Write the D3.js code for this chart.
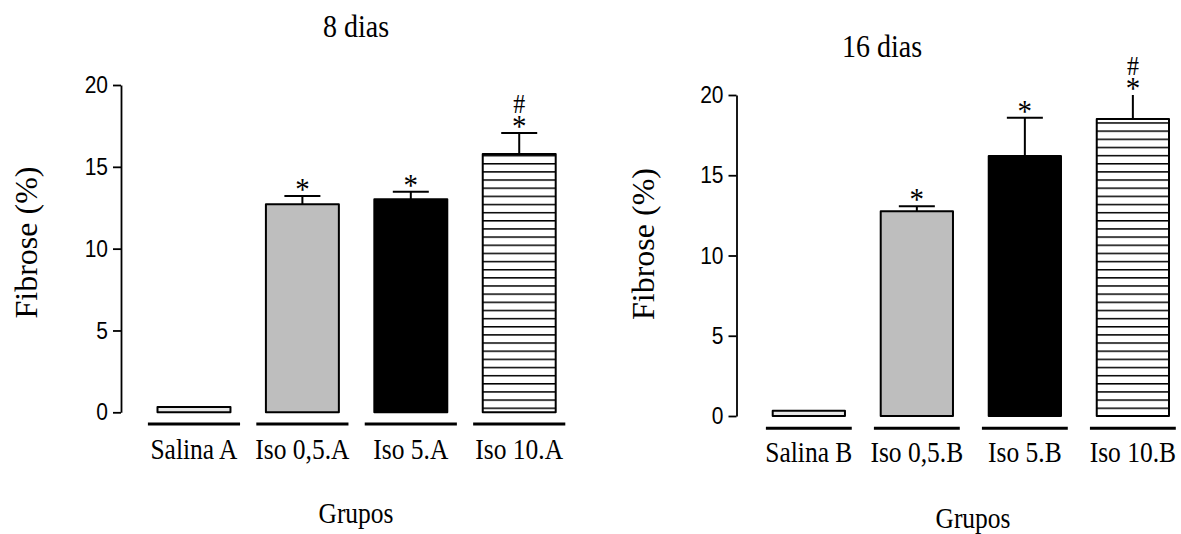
<!DOCTYPE html>
<html>
<head>
<meta charset="utf-8">
<script src="https://cdn.jsdelivr.net/npm/d3@7/dist/d3.min.js"></script>
<style>
  html, body { margin: 0; padding: 0; background: #fff; }
  svg { display: block; }
</style>
</head>
<body>
<svg id="chart" width="1181" height="534"></svg>
<script>
// ---- data ----
const categoriesA = ["Salina A", "Iso 0,5.A", "Iso 5.A", "Iso 10.A"];
const fibroseA    = [0.33, 12.71, 13.02, 15.79];   // mean fibrosis (%)
const semA        = [0, 0.51, 0.45, 1.28];         // standard error
const marksA      = ["", "*", "*", "#*"];          // significance marks

const categoriesB = ["Salina B", "Iso 0,5.B", "Iso 5.B", "Iso 10.B"];
const fibroseB    = [0.33, 12.75, 16.2, 18.5];
const semB        = [0, 0.32, 2.39, 1.8];
const marksB      = ["", "*", "*", "#*"];

const yTicks = [0, 5, 10, 15, 20];
const yMax = 20;

// ---- styles ----
const barFills = ["#e6e6e6", "#bebebe", "#000000", "url(#hatch)"];
const serif = "'Liberation Serif', 'Times New Roman', serif";
const sans = "'Liberation Sans', Arial, sans-serif";
const vStretch = 1.12;

const svg = d3.select("#chart");

// horizontal hatching for the last group
const defs = svg.append("defs");
const pat = defs.append("pattern")
  .attr("id", "hatch")
  .attr("patternUnits", "userSpaceOnUse")
  .attr("width", 10).attr("height", 8.15);
pat.append("rect").attr("width", 10).attr("height", 8.15).attr("fill", "#fff");
pat.append("line")
  .attr("x1", 0).attr("x2", 10).attr("y1", 0.75).attr("y2", 0.75)
  .attr("stroke", "#000").attr("stroke-width", 1.5);

function placeText(sel, x, y) {
  sel.attr("transform", `translate(${x},${y}) scale(1,${vStretch})`);
}

const panels = [
  {
    id: "a", title: "8 dias", cats: categoriesA, vals: fibroseA, sem: semA, marks: marksA,
    yRange: [412.3, 85], xRange: [157.5, 555.7], padInner: 0.327, axisX: 121,
    titlePos: [356, 37], yLabelPos: [37, 242.5], groupPos: [356, 523],
    underlineOffset: 11.7, underlineFrac: 0.85, labelOffset: 47
  },
  {
    id: "b", title: "16 dias", cats: categoriesB, vals: fibroseB, sem: semB, marks: marksB,
    yRange: [416, 95], xRange: [772.7, 1169], padInner: 0.331, axisX: 736.5,
    titlePos: [882, 57], yLabelPos: [654, 244], groupPos: [973, 528],
    underlineOffset: 12.3, underlineFrac: 0.795, labelOffset: 45.5
  }
];

panels.forEach(p => {
  const y = d3.scaleLinear().domain([0, yMax]).range(p.yRange);
  const x = d3.scaleBand().domain(p.cats).range(p.xRange)
    .paddingInner(p.padInner).paddingOuter(0);
  const g = svg.append("g");
  const rows = p.cats.map((c, i) => ({ cat: c, val: p.vals[i], sem: p.sem[i], mark: p.marks[i], fill: barFills[i] }));

  // y axis
  const axis = d3.axisLeft(y).tickValues(yTicks).tickSize(8).tickSizeOuter(0).tickPadding(5);
  const ax = g.append("g").attr("transform", `translate(${p.axisX},0)`).call(axis);
  ax.select(".domain").attr("stroke", "#000").attr("stroke-width", 1.8);
  ax.selectAll(".tick line").attr("stroke", "#000").attr("stroke-width", 1.8);
  ax.selectAll(".tick text")
    .attr("font-family", sans).attr("font-size", 21).attr("fill", "#000")
    .attr("transform", `scale(1,${vStretch})`);

  // bars
  g.selectAll("rect.bar").data(rows).join("rect")
    .attr("class", "bar")
    .attr("x", d => x(d.cat))
    .attr("width", x.bandwidth())
    .attr("y", d => y(d.val))
    .attr("height", d => y(0) - y(d.val))
    .attr("fill", d => d.fill)
    .attr("stroke", "#000").attr("stroke-width", 2)
    .attr("stroke-linejoin", "round");

  // error bars (clipped at the top of the axis)
  const clipId = "clip-" + p.id;
  defs.append("clipPath").attr("id", clipId).append("rect")
    .attr("x", p.axisX).attr("y", y(yMax))
    .attr("width", p.xRange[1] - p.axisX + 20).attr("height", y(0) - y(yMax));
  const eg = g.append("g").attr("clip-path", `url(#${clipId})`);
  const errRows = rows.filter(d => d.sem > 0);
  const capW = 36;
  eg.selectAll("line.err").data(errRows).join("line")
    .attr("x1", d => x(d.cat) + x.bandwidth() / 2)
    .attr("x2", d => x(d.cat) + x.bandwidth() / 2)
    .attr("y1", d => y(d.val)).attr("y2", d => y(d.val + d.sem))
    .attr("stroke", "#000").attr("stroke-width", 2);
  eg.selectAll("line.cap").data(errRows).join("line")
    .attr("x1", d => x(d.cat) + x.bandwidth() / 2 - capW / 2)
    .attr("x2", d => x(d.cat) + x.bandwidth() / 2 + capW / 2)
    .attr("y1", d => y(d.val + d.sem)).attr("y2", d => y(d.val + d.sem))
    .attr("stroke", "#000").attr("stroke-width", 2);

  // significance marks: "#" stacked above "*" in one text element
  rows.forEach(d => {
    if (!d.mark) return;
    const cx = x(d.cat) + x.bandwidth() / 2;
    const top = y(Math.min(d.val + d.sem, yMax));
    const t = g.append("text")
      .attr("font-family", serif).attr("text-anchor", "middle")
      .call(placeText, cx, top + 4);
    if (d.mark.includes("#")) {
      t.append("tspan").text("#").attr("x", 0).attr("y", -21).attr("font-size", 24);
    }
    if (d.mark.includes("*")) {
      t.append("tspan").text("*").attr("x", 0).attr("y", 0).attr("font-size", 29);
    }
  });

  // group underlines
  const ulW = x.step() * p.underlineFrac;
  g.selectAll("line.ul").data(rows).join("line")
    .attr("x1", d => x(d.cat) + x.bandwidth() / 2 - ulW / 2)
    .attr("x2", d => x(d.cat) + x.bandwidth() / 2 + ulW / 2)
    .attr("y1", y(0) + p.underlineOffset).attr("y2", y(0) + p.underlineOffset)
    .attr("stroke", "#000").attr("stroke-width", 3);

  // category labels
  g.selectAll("text.cat").data(rows).join("text")
    .attr("class", "cat")
    .text(d => d.cat)
    .attr("font-family", serif).attr("font-size", 25.5).attr("text-anchor", "middle")
    .each(function (d) {
      d3.select(this).call(placeText, x(d.cat) + x.bandwidth() / 2, y(0) + p.labelOffset);
    });

  // title
  g.append("text").text(p.title)
    .attr("font-family", serif).attr("font-size", 28).attr("text-anchor", "middle")
    .call(placeText, p.titlePos[0], p.titlePos[1]);

  // y label
  g.append("text").text("Fibrose (%)")
    .attr("font-family", serif).attr("font-size", 32).attr("text-anchor", "middle")
    .attr("transform", `translate(${p.yLabelPos[0]},${p.yLabelPos[1]}) rotate(-90)`);

  // x label
  g.append("text").text("Grupos")
    .attr("font-family", serif).attr("font-size", 25.5).attr("text-anchor", "middle")
    .call(placeText, p.groupPos[0], p.groupPos[1]);
});
</script>
</body>
</html>
